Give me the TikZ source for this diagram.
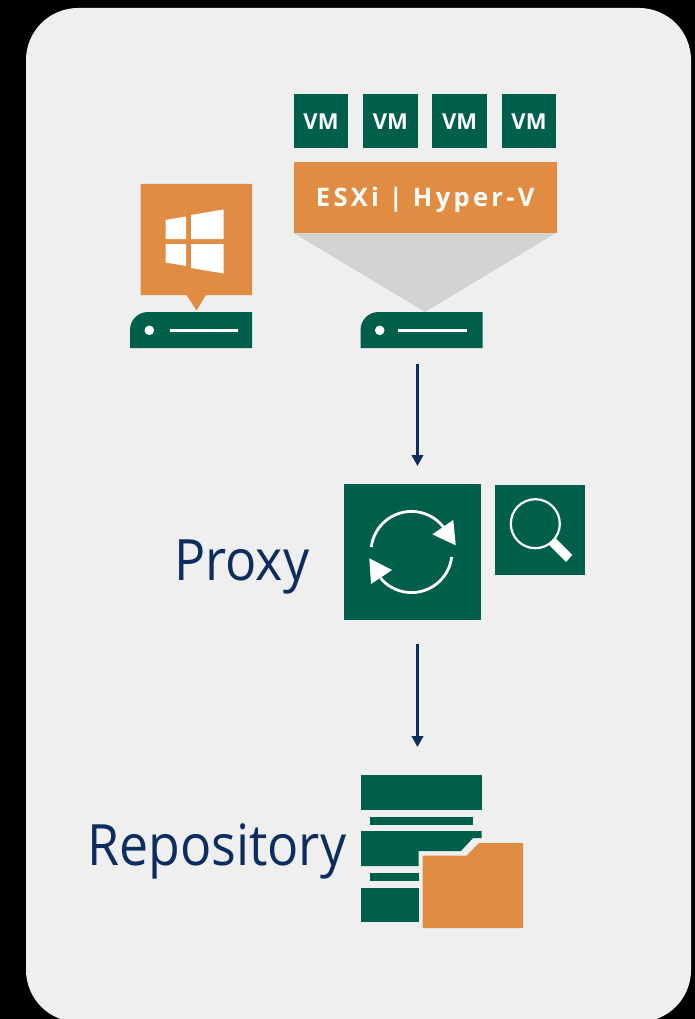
\documentclass[tikz,border=0pt]{standalone}
\usepackage{fontspec}
\usetikzlibrary{arrows.meta}
\setmainfont{Open Sans}
\newfontfamily\labfont[FakeStretch=0.91]{Open Sans}
\definecolor{vgreen}{HTML}{005F4B}
\definecolor{vorange}{HTML}{E08C43}
\definecolor{vbg}{HTML}{EFEFEF}
\definecolor{vgray}{HTML}{D2D4D3}
\definecolor{vnavy}{HTML}{0D2D5E}
\tikzset{
 x=1pt,y=-1pt,
 vmbox/.style={fill=vgreen,draw=none,text=white,minimum size=54.5pt,inner sep=0pt,text height=17pt,text depth=0pt,font=\bfseries\fontsize{22}{24}\selectfont},
 flow/.style={draw=vnavy,line width=2.4pt,-{Triangle[length=11pt,width=11.5pt]}},
 lab/.style={text=vnavy,inner sep=0pt,font=\labfont\fontsize{57}{60}\selectfont},
 ringline/.style={white,line width=2.8pt},
}
\newcommand{\serverbase}[5]{% left, right, dot x, line start, line end
 \fill[vgreen] (#1,348) -- (#1,330) arc[start angle=180,end angle=270,radius=18] -- (#2,312) -- (#2,348) -- cycle;
 \fill[white] (#3,330.3) circle (4.8);
 \fill[white] (#4,329.1) rectangle (#5,331.5);
}
\begin{document}
\begin{tikzpicture}
\useasboundingbox (0,0) rectangle (695,1019);
\fill[black] (0,0) rectangle (695,1019);
\begin{scope}
\clip (0,0) rectangle (695,1019);
\fill[vbg,rounded corners=52pt] (26,8) rectangle (691,1022);
\end{scope}
% VMs
\node[vmbox] (vma) at (321,121) {VM};
\node[vmbox] (vmb) at (390.3,121) {VM};
\node[vmbox] (vmc) at (459.7,121) {VM};
\node[vmbox] (vmd) at (529,121) {VM};
% funnel
\fill[vgray] (293.5,233) -- (556,233) -- (425,312) -- cycle;
\node[fill=vorange,text=white,minimum width=263pt,minimum height=71pt,inner sep=0pt,text height=18.2pt,text depth=0pt,font=\bfseries\fontsize{25.5}{27}\selectfont,anchor=north west] (esxi) at (293.5,162) {\addfontfeature{LetterSpace=13}ESXi | Hyper-V};
% windows
\fill[vorange] (140.5,184) rectangle (252,295) (186.5,295) -- (206,295) -- (196.5,310.5) -- cycle;
\fill[white] (165.5,220) -- (186,216.5) -- (186,239) -- (165.5,239) -- cycle
 (191,215) -- (223.5,209.5) -- (223.5,239) -- (191,239) -- cycle
 (165.5,244) -- (186,244) -- (186,266) -- (165.5,262.5) -- cycle
 (191,244) -- (223.5,244) -- (223.5,273.5) -- (191,268) -- cycle;
\serverbase{130}{252}{149.3}{170}{237.7}
\serverbase{360.5}{482.5}{379.7}{398.3}{466.7}
% proxy
\node[fill=vgreen,minimum width=137pt,minimum height=136pt,inner sep=0pt,anchor=north west] (proxy) at (344,484) {};
\draw[ringline] (371.3,547) arc[start angle=187,end angle=322,radius=40.5];
\draw[ringline] (451.7,557) arc[start angle=7,end angle=140,radius=40.5];
\fill[white] (453.3,520) -- (455.7,545.3) -- (432.3,534.3) -- cycle;
\fill[white] (369.3,558.3) -- (392,570) -- (371,584) -- cycle;
% search
\node[fill=vgreen,minimum width=89.5pt,minimum height=90.5pt,inner sep=0pt,anchor=north west] (search) at (495,484.5) {};
\draw[white,line width=2.2pt] (535.3,523.7) circle (24.5);
\fill[white] (555.7,538.3) -- (572.3,555) -- (566,562) -- (549.3,545.3) -- cycle;
% repository
\fill[vgreen] (361,775) rectangle (481.5,809.5);
\fill[vgreen] (369.5,816.5) rectangle (472.5,824.5);
\fill[vgreen] (361,831) -- (481.5,831) -- (481.5,838) -- (473,838) -- (461,851) -- (418.5,851) -- (418.5,866) -- (361,866) -- cycle;
\fill[vgreen] (369.5,873) rectangle (418.5,880.5);
\fill[vgreen] (361,887.5) rectangle (418.5,922);
\fill[vorange] (422.5,928) -- (422.5,855.5) -- (466.5,855.5) -- (479,843) -- (523,843) -- (523,928) -- cycle;
% labels
\node[lab,anchor=base west] (lp) at (174,580) {Proxy};
\node[lab,anchor=base west] (lr) at (87,865) {Repository};
% connectors
\coordinate (a1) at (417.5,364);
\coordinate (a2) at (417.5,466);
\coordinate (a3) at (417.5,644);
\coordinate (a4) at (417.5,747);
\draw[flow] (a1) -- (a2);
\draw[flow] (a3) -- (a4);
\end{tikzpicture}
\end{document}
